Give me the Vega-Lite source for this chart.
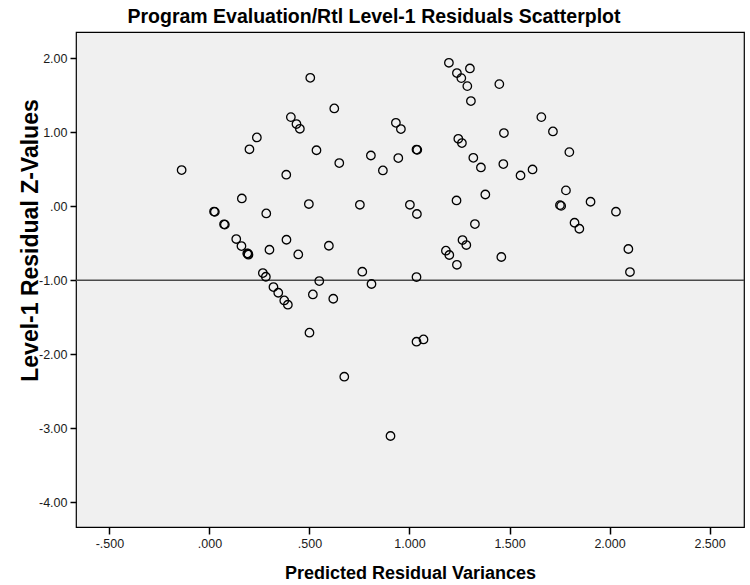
{
  "$schema": "https://vega.github.io/schema/vega-lite/v6.json",
  "autosize": "none",
  "width": 668,
  "height": 495,
  "padding": {"left": 76, "top": 32, "right": 6, "bottom": 58},
  "background": "white",
  "config": {
    "font": "Liberation Sans",
    "view": {"fill": "#f0f0f0", "stroke": "#000000", "strokeWidth": 1.2}
  },
  "title": {
    "text": "Program Evaluation/Rtl Level-1 Residuals Scatterplot",
    "font": "Liberation Sans",
    "fontSize": 19.5,
    "fontWeight": "bold",
    "color": "#000000",
    "anchor": "middle",
    "dx": -36,
    "offset": 5
  },
  "data": {
    "values": [
      {"x": -0.139, "y": 0.489},
      {"x": 0.023, "y": -0.072},
      {"x": 0.027, "y": -0.076},
      {"x": 0.073, "y": -0.244},
      {"x": 0.077, "y": -0.248},
      {"x": 0.162, "y": 0.105},
      {"x": 0.134, "y": -0.443},
      {"x": 0.160, "y": -0.538},
      {"x": 0.189, "y": -0.638},
      {"x": 0.195, "y": -0.655},
      {"x": 0.193, "y": -0.642},
      {"x": 0.284, "y": -0.097},
      {"x": 0.384, "y": 0.426},
      {"x": 0.200, "y": 0.770},
      {"x": 0.535, "y": 0.757},
      {"x": 0.649, "y": 0.584},
      {"x": 0.497, "y": 0.030},
      {"x": 0.385, "y": -0.453},
      {"x": 0.300, "y": -0.588},
      {"x": 0.444, "y": -0.651},
      {"x": 0.597, "y": -0.534},
      {"x": 0.267, "y": -0.903},
      {"x": 0.282, "y": -0.953},
      {"x": 0.549, "y": -1.011},
      {"x": 0.320, "y": -1.092},
      {"x": 0.344, "y": -1.169},
      {"x": 0.374, "y": -1.273},
      {"x": 0.392, "y": -1.331},
      {"x": 0.517, "y": -1.192},
      {"x": 0.619, "y": -1.250},
      {"x": 0.500, "y": -1.709},
      {"x": 0.504, "y": 1.736},
      {"x": 0.624, "y": 1.322},
      {"x": 0.407, "y": 1.205},
      {"x": 0.435, "y": 1.111},
      {"x": 0.452, "y": 1.047},
      {"x": 0.237, "y": 0.930},
      {"x": 1.197, "y": 1.939},
      {"x": 1.237, "y": 1.800},
      {"x": 1.259, "y": 1.732},
      {"x": 1.302, "y": 1.862},
      {"x": 1.289, "y": 1.624},
      {"x": 1.449, "y": 1.651},
      {"x": 1.307, "y": 1.422},
      {"x": 1.659, "y": 1.205},
      {"x": 1.717, "y": 1.011},
      {"x": 1.472, "y": 0.989},
      {"x": 0.932, "y": 1.128},
      {"x": 0.957, "y": 1.043},
      {"x": 1.244, "y": 0.912},
      {"x": 1.262, "y": 0.854},
      {"x": 1.799, "y": 0.732},
      {"x": 1.035, "y": 0.766},
      {"x": 1.039, "y": 0.762},
      {"x": 0.807, "y": 0.686},
      {"x": 0.944, "y": 0.651},
      {"x": 0.867, "y": 0.484},
      {"x": 1.319, "y": 0.655},
      {"x": 1.357, "y": 0.524},
      {"x": 1.469, "y": 0.570},
      {"x": 1.615, "y": 0.497},
      {"x": 1.555, "y": 0.416},
      {"x": 1.379, "y": 0.159},
      {"x": 1.782, "y": 0.214},
      {"x": 1.752, "y": 0.015},
      {"x": 1.758, "y": 0.005},
      {"x": 1.905, "y": 0.061},
      {"x": 0.752, "y": 0.020},
      {"x": 1.002, "y": 0.020},
      {"x": 1.037, "y": -0.105},
      {"x": 1.235, "y": 0.078},
      {"x": 1.327, "y": -0.241},
      {"x": 1.825, "y": -0.223},
      {"x": 1.849, "y": -0.304},
      {"x": 1.265, "y": -0.457},
      {"x": 1.284, "y": -0.524},
      {"x": 1.182, "y": -0.601},
      {"x": 1.199, "y": -0.659},
      {"x": 1.237, "y": -0.791},
      {"x": 1.459, "y": -0.686},
      {"x": 0.764, "y": -0.885},
      {"x": 0.810, "y": -1.051},
      {"x": 1.035, "y": -0.957},
      {"x": 2.032, "y": -0.074},
      {"x": 2.094, "y": -0.578},
      {"x": 2.102, "y": -0.889},
      {"x": 0.674, "y": -2.304},
      {"x": 0.905, "y": -3.105},
      {"x": 1.035, "y": -1.831},
      {"x": 1.070, "y": -1.800}
    ]
  },
  "layer": [
    {
      "data": {"values": [{"ref": -1}]},
      "mark": {"type": "rule", "color": "#4a4a4a", "strokeWidth": 1.5},
      "encoding": {
        "y": {"field": "ref", "type": "quantitative", "scale": {"domain": [-4.335, 2.355], "nice": false, "zero": false}}
      }
    },
    {
      "mark": {"type": "point", "shape": "circle", "filled": false, "stroke": "#000000", "strokeWidth": 1.3, "size": 72, "opacity": 1},
      "encoding": {
        "x": {
          "field": "x",
          "type": "quantitative",
          "title": "Predicted Residual Variances",
          "scale": {"domain": [-0.667, 2.672], "nice": false, "zero": false},
          "axis": {
            "values": [-0.5, 0, 0.5, 1, 1.5, 2, 2.5],
            "labelExpr": "replace(replace(format(datum.value, '.3f'), '\u2212', '-'), regexp('^(-?)0[.]'), '$1.')",
            "domain": false,
            "grid": false,
            "tickColor": "#000000",
            "tickWidth": 1.5,
            "tickSize": 7,
            "labelFont": "Liberation Sans",
            "labelFontSize": 12.5,
            "labelColor": "#1a1a1a",
            "labelPadding": 3,
            "titleFont": "Liberation Sans",
            "titleFontSize": 18,
            "titleFontWeight": "bold",
            "titleColor": "#000000",
            "titleBaseline": "middle",
            "titleY": 46
          }
        },
        "y": {
          "field": "y",
          "type": "quantitative",
          "title": "Level-1 Residual Z-Values",
          "scale": {"domain": [-4.335, 2.355], "nice": false, "zero": false},
          "axis": {
            "values": [2, 1, 0, -1, -2, -3, -4],
            "labelExpr": "replace(replace(format(datum.value, '.2f'), '\u2212', '-'), regexp('^(-?)0[.]'), '$1.')",
            "domain": false,
            "grid": false,
            "tickColor": "#000000",
            "tickWidth": 1.5,
            "tickSize": 6,
            "labelFont": "Liberation Sans",
            "labelFontSize": 12.5,
            "labelColor": "#1a1a1a",
            "labelPadding": 3,
            "titleFont": "Liberation Sans",
            "titleFontSize": 23,
            "titleFontWeight": "bold",
            "titleColor": "#000000",
            "titleBaseline": "middle",
            "titleAlign": "center",
            "titleX": -46,
            "titleY": 208
          }
        }
      }
    }
  ]
}
